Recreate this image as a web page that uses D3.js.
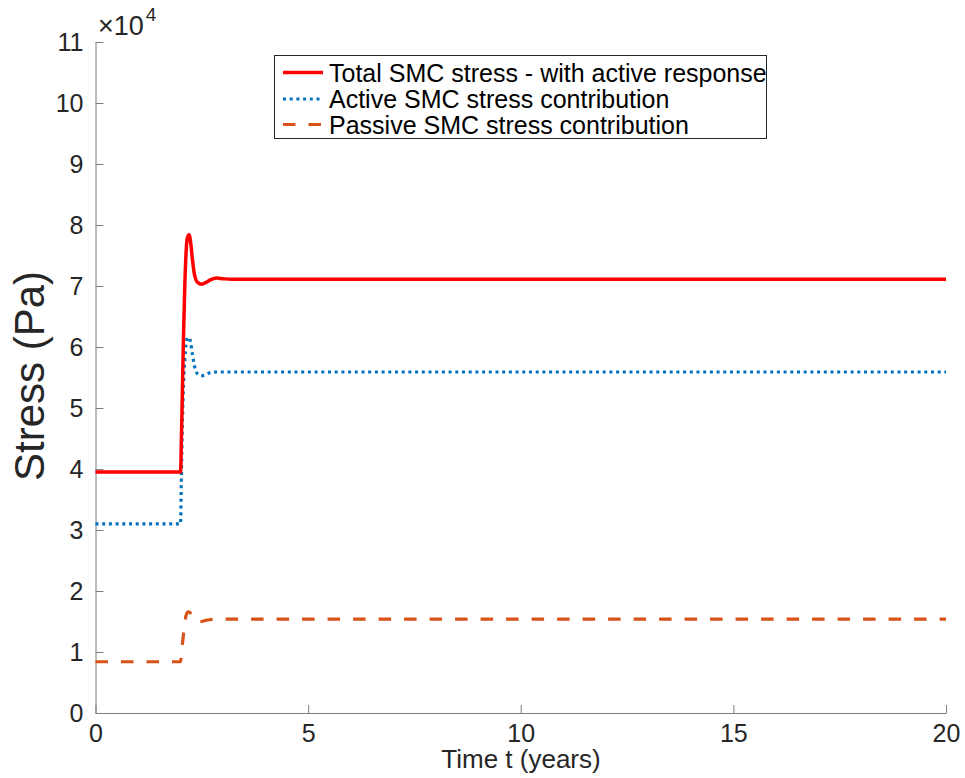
<!DOCTYPE html>
<html>
<head>
<meta charset="utf-8">
<script src="https://cdn.jsdelivr.net/npm/d3@7"></script>
<style>
  html, body { margin: 0; padding: 0; background: #fff; }
  svg { display: block; font-family: "Liberation Sans", Arial, Helvetica, sans-serif; }
</style>
</head>
<body>
<svg id="chart" width="965" height="778"></svg>
<script>
// ---- data ----
const time = [0, 2.0, 2.02, 2.04, 2.07, 2.1, 2.13, 2.16, 2.2, 2.24, 2.28, 2.33, 2.4, 2.5, 2.6, 2.7, 2.85, 3.0, 3.2, 20];
const totalStress = [39500, 39500, 45000, 51500, 62000, 70000, 75500, 77900, 78400, 77000, 74300, 71800, 70600, 70300, 70600, 71000, 71300, 71200, 71100, 71100];
const activeStress = [31000, 31000, 39000, 46500, 54000, 58000, 60500, 61400, 61600, 60600, 58800, 56800, 55600, 55300, 55500, 55800, 55900, 55900, 55900, 55900];
const passiveStress = [8400, 8400, 9500, 11000, 13000, 14800, 16000, 16500, 16600, 16300, 15800, 15300, 15000, 15000, 15200, 15300, 15400, 15400, 15400, 15400];
const seriesNames = ["Total SMC stress - with active response", "Active SMC stress contribution", "Passive SMC stress contribution"];
const xTicks = [0, 5, 10, 15, 20];
const yTicks = [0, 10000, 20000, 30000, 40000, 50000, 60000, 70000, 80000, 90000, 100000, 110000];
const xLabel = "Time t (years)";
const yLabel = "Stress (Pa)";

// ---- layout ----
const L = 95.5, R = 946, T = 42, B = 713;
const svg = d3.select("#chart");
const x = d3.scaleLinear().domain([0, 20]).range([L, R]);
const y = d3.scaleLinear().domain([0, 110000]).range([B, T]);

const axisColor = "#7f7f7f", textColor = "#262626";

// axes
const gx = svg.append("g").attr("transform", `translate(0,${B})`)
  .call(d3.axisBottom(x).tickValues(xTicks).tickSize(-8).tickPadding(11).tickSizeOuter(0).tickFormat(d3.format("d")));
const gy = svg.append("g").attr("transform", `translate(${L},0)`)
  .call(d3.axisLeft(y).tickValues(yTicks).tickSize(-8).tickPadding(12).tickSizeOuter(0).tickFormat(d => d / 10000));
[gx, gy].forEach(g => {
  g.select(".domain").attr("stroke", axisColor).attr("stroke-width", 1);
  g.selectAll(".tick line").attr("stroke", axisColor).attr("stroke-width", 1);
  g.selectAll(".tick text").attr("fill", textColor).attr("font-size", 25)
    .attr("font-family", "Liberation Sans, Arial, sans-serif");
});

// exponent label
const mult = svg.append("text").attr("x", 98).attr("y", 35).attr("fill", textColor)
  .attr("font-size", 27);
mult.append("tspan").text("\u00D710");
mult.append("tspan").attr("font-size", 19).attr("dy", -14).attr("dx", 2).text("4");

// axis labels
svg.append("text").attr("x", 521).attr("y", 768).attr("text-anchor", "middle")
  .attr("fill", textColor).attr("font-size", 26).text(xLabel);
svg.append("text").attr("transform", "translate(44,376) rotate(-90)").attr("text-anchor", "middle")
  .attr("fill", textColor).attr("font-size", 42).text(yLabel);

// lines
const styles = [
  { vals: totalStress, color: "#ff0000", width: 3.5, dash: null },
  { vals: activeStress, color: "#0072BD", width: 3.2, dash: "3,3.7" },
  { vals: passiveStress, color: "#D95319", width: 3.2, dash: "12.5,13" }
];
const line = d3.line().curve(d3.curveMonotoneX);
// draw passive, active, then total on top
[2, 1, 0].forEach(i => {
  const s = styles[i];
  svg.append("path")
    .attr("d", line(time.map((t, k) => [x(t), y(s.vals[k])])))
    .attr("fill", "none").attr("stroke", s.color).attr("stroke-width", s.width)
    .attr("stroke-dasharray", s.dash)
    .attr("stroke-linejoin", "round");
});

// legend
const lg = svg.append("g");
lg.append("rect").attr("x", 274.5).attr("y", 55.5).attr("width", 492).attr("height", 83)
  .attr("fill", "#fff").attr("stroke", "#262626").attr("stroke-width", 1);
const rowsY = [72.5, 99, 124.5];
styles.forEach((s, i) => {
  lg.append("line").attr("x1", 283).attr("x2", 323).attr("y1", rowsY[i]).attr("y2", rowsY[i])
    .attr("stroke", s.color).attr("stroke-width", s.width).attr("stroke-dasharray", s.dash);
  lg.append("text").attr("x", 329).attr("y", rowsY[i] + 9).attr("font-size", 25)
    .attr("fill", "#000").text(seriesNames[i]);
});
</script>
</body>
</html>
